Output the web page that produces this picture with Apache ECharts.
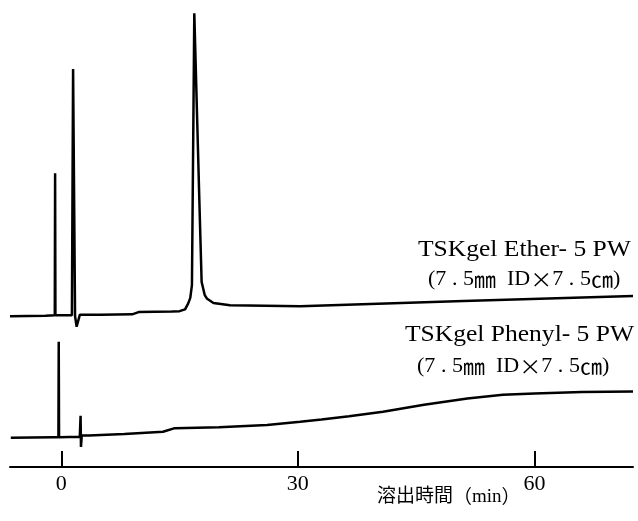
<!DOCTYPE html>
<html>
<head>
<meta charset="utf-8">
<script src="https://cdn.jsdelivr.net/npm/echarts@6/dist/echarts.min.js"></script>
<style>
	html, body { margin: 0; padding: 0; background: #fff; }
	#chart { width: 638px; height: 521px; }
</style>
</head>
<body>
<div id="chart"></div>
<script>
// elution time (min) vs detector signal
var etherTrace = [
	[-6.5, 33.0], [-2.0, 33.1], [-0.82, 33.2], [-0.78, 64.3], [-0.74, 33.2],
	[1.35, 33.2], [1.5, 87.1], [1.75, 33.0], [1.95, 30.7], [2.2, 30.7], [2.35, 33.3],
	[5.0, 33.3], [9.0, 33.4], [9.8, 33.9], [14.0, 34.0], [15.0, 34.1],
	[15.7, 34.5], [16.1, 35.8], [16.36, 37.0], [16.57, 39.8], [16.75, 75.0],
	[16.87, 99.3], [17.0, 91.0], [17.25, 75.0], [17.5, 59.0], [17.8, 40.5],
	[18.2, 37.6], [18.5, 36.8], [19.3, 35.9], [21.4, 35.4], [30.3, 35.2],
	[51.0, 36.3], [72.5, 37.4]
];
var phenylTrace = [
	[-6.4, 6.4], [-1.0, 6.5], [-0.36, 6.5], [-0.32, 27.4], [-0.28, 6.5],
	[2.35, 6.6], [2.45, 11.2], [2.5, 4.4], [2.6, 6.9], [3.5, 6.9],
	[8.0, 7.2], [12.9, 7.7], [14.4, 8.5], [20.0, 8.7], [26.1, 9.2],
	[30.3, 9.9], [33.0, 10.4], [36.5, 11.1], [40.8, 12.1], [46.0, 13.6],
	[51.5, 15.0], [56.0, 15.8], [60.0, 16.1], [66.0, 16.4], [72.5, 16.5]
];
var tickValues = [0, 30, 60];
var etherLabel = ['TSKgel Ether- 5 PW', '(7 . 5㎜  ID×7 . 5㎝)'];
var phenylLabel = ['TSKgel Phenyl- 5 PW', '(7 . 5㎜  ID×7 . 5㎝)'];
var xAxisTitle = '溶出時間（min）';

var serif = '"Liberation Serif", "Noto Sans CJK JP", serif';
var cjk = '"Noto Sans CJK JP", sans-serif';

function traceSeries(name, data) {
	return {
		name: name,
		type: 'line',
		data: data,
		symbol: 'none',
		smooth: false,
		lineStyle: { color: '#000', width: 2.5 },
		silent: true
	};
}

// wrap the wide characters so they are drawn with the CJK font
function richText(text) {
	return text.replace(/[㎜㎝×（）]/g, function(ch) {
		return '{c|' + ch + '}';
	});
}

function label(text, x, y, size, stretch) {
	return {
		type: 'text',
		x: x,
		y: y,
		scaleX: stretch || 1,
		style: {
			text: richText(text),
			font: size + 'px ' + serif,
			fill: '#000',
			align: 'left',
			verticalAlign: 'middle',
			rich: {
				c: { fontFamily: cjk, fontSize: size, fill: '#000' }
			}
		}
	};
}

var chart = echarts.init(document.getElementById('chart'));
chart.setOption({
	animation: false,
	backgroundColor: '#fff',
	grid: { left: 10, right: 5, top: 10, bottom: 54 },
	xAxis: {
		type: 'value',
		min: -6.5,
		max: 72.5,
		axisLine: { lineStyle: { color: '#000', width: 2 } },
		axisTick: {
			customValues: tickValues,
			inside: true,
			length: 16,
			lineStyle: { color: '#000', width: 2 }
		},
		axisLabel: {
			customValues: tickValues,
			color: '#000',
			fontSize: 22,
			fontFamily: serif,
			margin: 6
		},
		splitLine: { show: false }
	},
	yAxis: {
		type: 'value',
		min: 0,
		max: 100,
		show: false
	},
	series: [
		traceSeries('TSKgel Ether-5PW', etherTrace),
		traceSeries('TSKgel Phenyl-5PW', phenylTrace)
	],
	graphic: [
		label(etherLabel[0], 418, 250, 23, 1.11),
		label(etherLabel[1], 428, 279, 21, 1.05),
		label(phenylLabel[0], 405, 335, 23, 1.11),
		label(phenylLabel[1], 417, 366, 21, 1.05),
		label(xAxisTitle, 377, 497, 19)
	]
});
</script>
</body>
</html>
